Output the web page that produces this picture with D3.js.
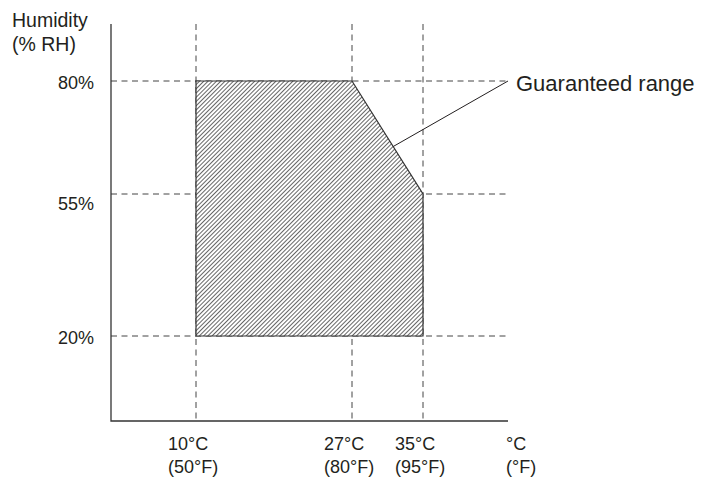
<!DOCTYPE html>
<html>
<head>
<meta charset="utf-8">
<script src="https://cdn.jsdelivr.net/npm/d3@7"></script>
<style>
  body { margin: 0; background: #fff; }
  text { font-family: 'Liberation Sans', Arial, sans-serif; fill: #231f20; }
</style>
</head>
<body>
<svg width="701" height="481"></svg>
<script>
'use strict';

// data
var tempC = [10, 27, 35];
var tempF = [50, 80, 95];
var humidity = [20, 55, 80];
var rangeC = [10, 27, 35, 35, 10];
var rangeRH = [80, 80, 55, 20, 20];
var rangeLabel = 'Guaranteed range';

var frame = { left: 111, right: 508, top: 24, bottom: 421 };

// the drawing is not to scale, so the scales are piecewise
var x = d3.scaleLinear().domain(tempC).range([196, 352, 423]);
var y = d3.scaleLinear().domain(humidity).range([336, 194, 81]);

var svg = d3.select('svg');

// hatch pattern
var pat = svg.append('defs')
    .append('pattern')
    .attr('id', 'hatch')
    .attr('patternUnits', 'userSpaceOnUse')
    .attr('width', 3)
    .attr('height', 3)
    .attr('patternTransform', 'rotate(45)');
pat.append('rect')
    .attr('width', 3).attr('height', 3)
    .attr('fill', '#fff');
pat.append('line')
    .attr('x1', 0).attr('y1', 0)
    .attr('x2', 0).attr('y2', 3)
    .attr('stroke', '#555')
    .attr('stroke-width', 1.8);

// dashed grid
svg.append('g')
    .selectAll('line')
    .data(tempC)
    .enter()
    .append('line')
    .attr('x1', function (d) { return x(d); })
    .attr('x2', function (d) { return x(d); })
    .attr('y1', frame.top)
    .attr('y2', frame.bottom)
    .attr('stroke', '#444')
    .attr('stroke-dasharray', '6,4.5');

svg.append('g')
    .selectAll('line')
    .data(humidity)
    .enter()
    .append('line')
    .attr('x1', frame.left)
    .attr('x2', frame.right)
    .attr('y1', function (d) { return y(d); })
    .attr('y2', function (d) { return y(d); })
    .attr('stroke', '#444')
    .attr('stroke-dasharray', '6,4.5');

// shaded area, on top of the grid
var pts = rangeC.map(function (c, i) { return [x(c), y(rangeRH[i])]; });
svg.append('polygon')
    .attr('points', pts.map(function (p) { return p.join(','); }).join(' '))
    .attr('fill', 'url(#hatch)')
    .attr('stroke', '#333')
    .attr('stroke-width', 1.2);

// axes
svg.append('path')
    .attr('d', 'M' + frame.left + ',' + frame.top + ' V' + frame.bottom + ' H' + frame.right)
    .attr('fill', 'none')
    .attr('stroke', '#333')
    .attr('stroke-width', 1.3);

// y labels
svg.append('g')
    .selectAll('text')
    .data(humidity)
    .enter()
    .append('text')
    .text(function (d) { return d + '%'; })
    .attr('x', 94)
    .attr('y', function (d) { return y(d) + (d === 55 ? 16 : 8); })
    .attr('text-anchor', 'end')
    .style('font-size', '18px');

var yt = svg.append('text').style('font-size', '19.5px');
yt.append('tspan').attr('x', 12).attr('y', 27).text('Humidity');
yt.append('tspan').attr('x', 12).attr('y', 51).text('(% RH)');

// x labels
var xl = svg.append('g')
    .selectAll('text')
    .data(tempC)
    .enter()
    .append('text')
    .style('font-size', '18px');
xl.append('tspan')
    .attr('x', function (d) { return x(d) - 28; })
    .attr('y', 450)
    .text(function (d) { return d + '°C'; });
xl.append('tspan')
    .attr('x', function (d) { return x(d) - 28; })
    .attr('y', 473)
    .text(function (d, i) { return '(' + tempF[i] + '°F)'; });

var xu = svg.append('text').style('font-size', '18px');
xu.append('tspan').attr('x', frame.right - 2).attr('y', 450).text('°C');
xu.append('tspan').attr('x', frame.right - 2).attr('y', 473).text('(°F)');

// leader line + label
var t = 0.58;
var lx = x(27) + (x(35) - x(27)) * t;
var ly = y(80) + (y(55) - y(80)) * t;
svg.append('line')
    .attr('x1', lx).attr('y1', ly)
    .attr('x2', frame.right).attr('y2', y(80))
    .attr('stroke', '#231f20')
    .attr('stroke-width', 1);
svg.append('text')
    .text(rangeLabel)
    .attr('x', 516)
    .attr('y', 91)
    .style('font-size', '22px');
</script>
</body>
</html>
